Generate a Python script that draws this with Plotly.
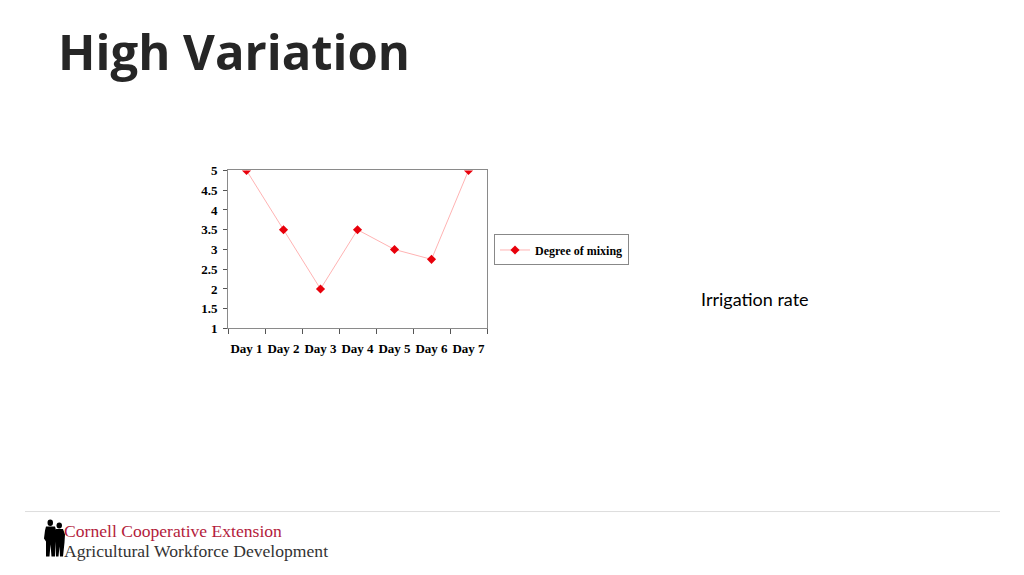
import plotly.graph_objects as go

days = ["Day 1", "Day 2", "Day 3", "Day 4", "Day 5", "Day 6", "Day 7"]
mixing = [5, 3.5, 2, 3.5, 3, 2.75, 5]
y_ticks = [1, 1.5, 2, 2.5, 3, 3.5, 4, 4.5, 5]

# page offsets of the graph div inside the browser page (and vertical capture scale)
LEFT, TOP, S = 8, 15, 575 / 591
W, H = 1024 - 16, 560
def fx(px): return (px - LEFT) / W
def fy(py): return 1 - (py / S - TOP) / H

fig = go.Figure()
fig.add_trace(go.Scatter(
    x=days, y=mixing, mode="lines+markers", name="<b>Degree of mixing</b>",
    line=dict(color="#FFB3B3", width=1),
    marker=dict(symbol="diamond", color="#E8000B", size=7),
))

serif = "Liberation Serif"
fig.update_layout(
    width=W, height=H, margin=dict(l=0, r=0, t=0, b=0),
    paper_bgcolor="white", plot_bgcolor="white",
    showlegend=True,
    legend=dict(x=fx(494), y=fy(249.5), xanchor="left", yanchor="middle",
                bordercolor="#888888", borderwidth=1, bgcolor="white",
                font=dict(family=serif, size=12, color="black"),
                itemwidth=30, tracegroupgap=0),
    xaxis=dict(domain=[fx(228), fx(487)], type="category",
               range=[-0.5, 6.5], showgrid=False, showline=True,
               linecolor="#8a8a8a", linewidth=1, mirror=True, ticks="outside",
               tickson="boundaries", ticklen=5, tickcolor="#555555",
               tickangle=0, ticklabelstandoff=8,
               tickvals=days, ticktext=[f"<b>{d}</b>" for d in days],
               tickfont=dict(family=serif, size=13, color="black"),
               fixedrange=True),
    yaxis=dict(domain=[fy(328), fy(170)], range=[1, 5],
               tickvals=y_ticks, ticktext=[f"<b>{v:g}</b>" for v in y_ticks],
               showgrid=False, showline=True, linecolor="#8a8a8a",
               linewidth=1, mirror=True, ticks="outside", ticklen=4,
               tickcolor="#555555", ticklabelstandoff=3,
               tickfont=dict(family=serif, size=13, color="black"),
               zeroline=False, fixedrange=True),
)

# Title
fig.add_annotation(text="<b>High Variation</b>", x=fx(56), y=fy(51),
                   xref="paper", yref="paper", xanchor="left", yanchor="middle",
                   showarrow=False,
                   font=dict(family="Open Sans", size=49, color="#262626"))
# Side label
fig.add_annotation(text="Irrigation rate", x=fx(699), y=fy(299),
                   xref="paper", yref="paper", xanchor="left", yanchor="middle",
                   showarrow=False,
                   font=dict(family="Lato", size=18, color="black"))
# Footer separator line
fig.add_shape(type="line", xref="paper", yref="paper",
              x0=fx(25), x1=fx(1000), y0=fy(511), y1=fy(511),
              line=dict(color="#DDDDDD", width=1))
# Footer logo text
fig.add_annotation(text="Cornell Cooperative Extension", x=fx(62), y=fy(530),
                   xref="paper", yref="paper", xanchor="left", yanchor="middle",
                   showarrow=False,
                   font=dict(family=serif, size=17.6, color="#B31B3B"))
fig.add_annotation(text="Agricultural Workforce Development", x=fx(62), y=fy(550),
                   xref="paper", yref="paper", xanchor="left", yanchor="middle",
                   showarrow=False,
                   font=dict(family=serif, size=17.6, color="#333333"))

# Silhouette logo (two figures)
def path(points):
    return "M " + " L ".join(f"{fx(x):.5f},{fy(y):.5f}" for x, y in points) + " Z"

fig.add_shape(type="circle", xref="paper", yref="paper",
              x0=fx(47.5), x1=fx(53), y0=fy(519), y1=fy(525.5),
              fillcolor="black", line=dict(width=0))
fig.add_shape(type="path", xref="paper", yref="paper",
              path=path([(46, 526), (55, 526), (57, 533), (56, 541), (55, 556),
                         (51.5, 556), (50.5, 544), (49.5, 556), (46, 556),
                         (46, 541), (44, 538), (45, 530)]),
              fillcolor="black", line=dict(width=0))
fig.add_shape(type="circle", xref="paper", yref="paper",
              x0=fx(56.5), x1=fx(62), y0=fy(522), y1=fy(528),
              fillcolor="black", line=dict(width=0))
fig.add_shape(type="path", xref="paper", yref="paper",
              path=path([(56, 528.5), (63, 528.5), (65, 534), (64.5, 542),
                         (63, 556), (60, 556), (59.5, 546), (58.5, 556),
                         (56, 556), (56, 542)]),
              fillcolor="black", line=dict(width=0))

fig.write_html("out.html")
